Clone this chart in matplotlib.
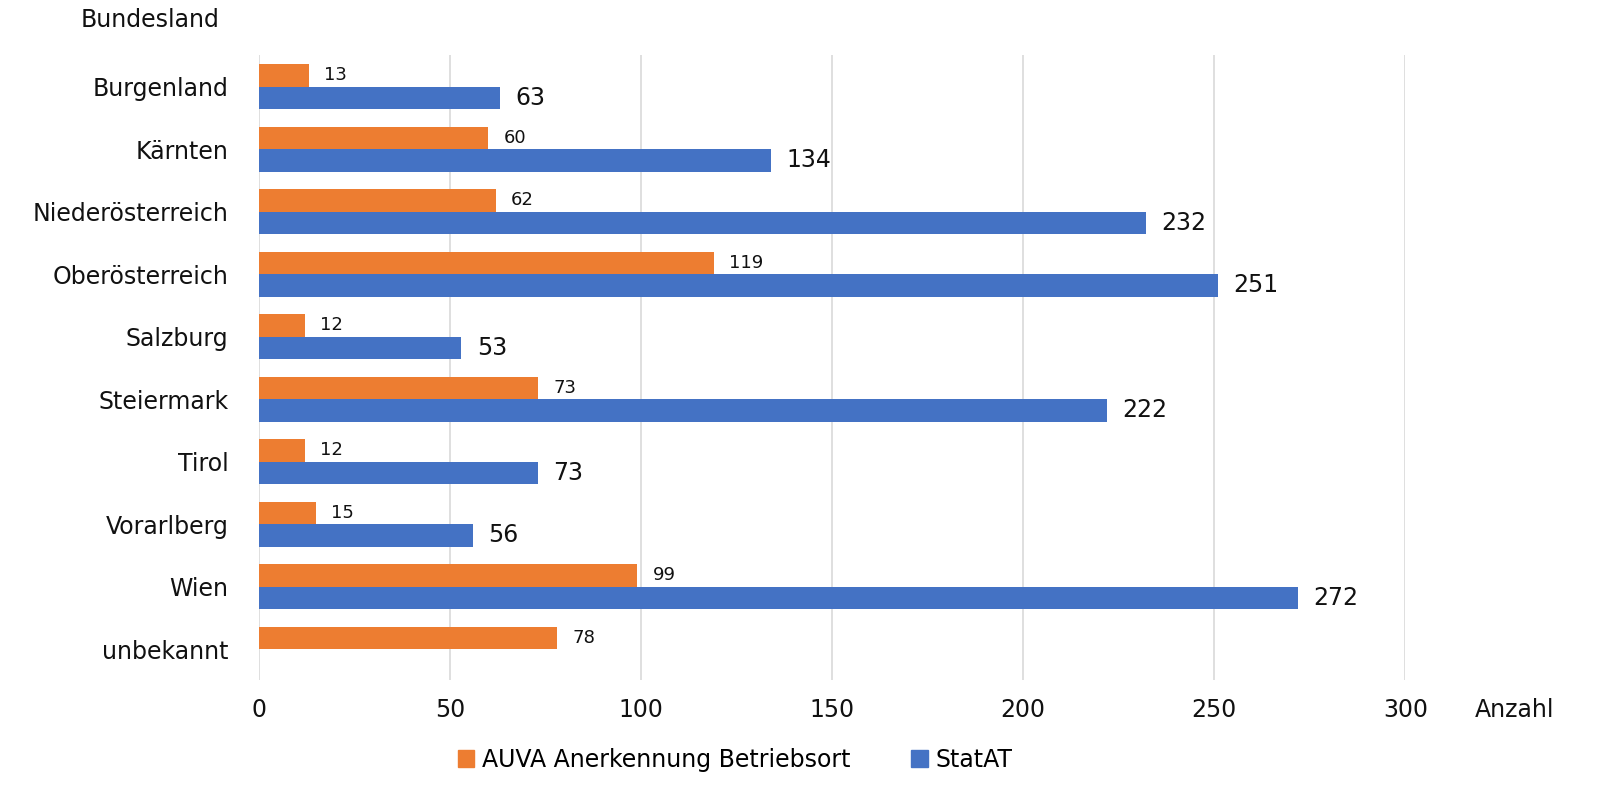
import numpy as np
import matplotlib.pyplot as plt
from matplotlib.patches import Patch

plt.rcParams["font.family"] = ["DejaVu Sans"]

laender = ["Burgenland", "Kärnten", "Niederösterreich", "Oberösterreich", "Salzburg",
           "Steiermark", "Tirol", "Vorarlberg", "Wien", "unbekannt"]
auva = [13, 60, 62, 119, 12, 73, 12, 15, 99, 78]
statat = [63, 134, 232, 251, 53, 222, 73, 56, 272, np.nan]

ORANGE = "#ED7D31"
BLUE = "#4472C4"
TXT = "#111111"
FS = 17

fig = plt.figure(figsize=(16.08, 7.91), dpi=100)
ax = fig.add_axes([0.161, 0.140, 0.713, 0.790])

y = np.arange(len(laender))
h = 0.36
ax.barh(y - h / 2, auva, height=h, color=ORANGE, zorder=3)
ax.barh(y + h / 2, statat, height=h, color=BLUE, zorder=3)

# Datenbeschriftungen
for yi, v in zip(y, auva):
    ax.text(v + 4, yi - h / 2, f"{v}", va="center", ha="left", fontsize=13, color=TXT)
for yi, v in zip(y, statat):
    if not np.isnan(v):
        ax.text(v + 4, yi + h / 2, f"{v:.0f}", va="center", ha="left", fontsize=FS, color=TXT)

ax.set_xlim(0, 300)
ax.set_ylim(len(laender) - 0.5, -0.5)
ax.set_xticks(range(0, 301, 50))
ax.set_yticks(y)
ax.set_yticklabels(laender)
ax.tick_params(axis="both", length=0, labelsize=FS, colors=TXT)
ax.tick_params(axis="x", pad=13)
ax.tick_params(axis="y", pad=22)
ax.grid(axis="x", color="#D9D9D9", linewidth=1.2, zorder=0)
for s in ax.spines.values():
    s.set_visible(False)

fig.text(150 / 1608, 1 - 20 / 791, "Bundesland", ha="center", va="center", fontsize=FS, color=TXT)
fig.text(1475 / 1608, 1 - 710 / 791, "Anzahl", ha="left", va="center", fontsize=FS, color=TXT)

handles = [Patch(color=ORANGE, label="AUVA Anerkennung Betriebsort"),
           Patch(color=BLUE, label="StatAT")]
fig.legend(handles=handles, loc="center", bbox_to_anchor=(735 / 1608, 1 - 760 / 791), ncol=2,
           frameon=False, fontsize=FS, handlelength=0.7, handleheight=0.7,
           handletextpad=0.3, columnspacing=2.6)

fig.savefig("out.png", dpi=100)
